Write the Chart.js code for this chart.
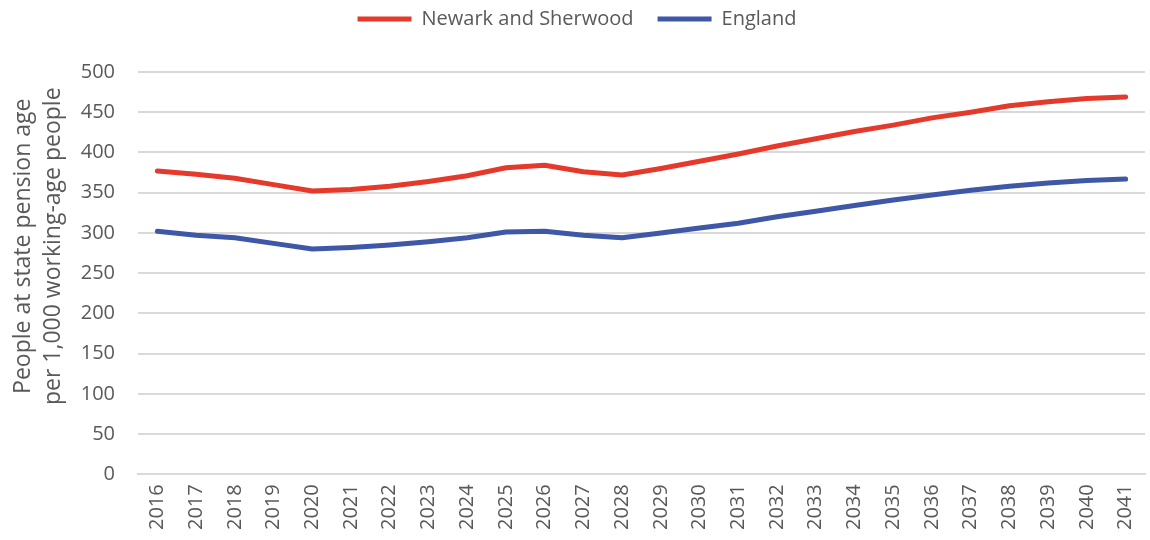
<!DOCTYPE html>
<html>
<head>
<meta charset="utf-8">
<script src="https://cdn.jsdelivr.net/npm/chart.js@4"></script>
<style>
  body { margin: 0; background: #fff; }
  #wrap { width: 1150px; height: 540px; }
</style>
</head>
<body>
<div id="wrap"><canvas id="chart" width="1150" height="540"></canvas></div>
<script>
// 연도
const years = ['2016','2017','2018','2019','2020','2021','2022','2023','2024','2025','2026','2027','2028',
    '2029','2030','2031','2032','2033','2034','2035','2036','2037','2038','2039','2040','2041'];
// Newark and Sherwood
const newark = [377,373,368,360,352,354,358,364,371,381,384,376,372,
    380,389,398,408,417,426,434,443,450,458,463,467,469];
// England
const england = [302,297,294,287,280,282,285,289,294,301,302,297,294,
    300,306,312,320,327,334,341,347,353,358,362,365,367];
// y축 눈금
const yTicks = [0,50,100,150,200,250,300,350,400,450,500];

const textColor = '#595959';
// 제목을 위로 조금 올리기 위한 앞 공백
const shift = '         ';

// 범례 아래 여백을 늘린다.
const legendGap = {
    id: 'legendGap',
    beforeInit(chart) {
        const fit = chart.legend.fit;
        chart.legend.fit = function () {
            fit.bind(chart.legend)();
            this.height += 33;
        };
    }
};

const chart = new Chart(document.getElementById('chart'), {
    type: 'line',
    data: {
        labels: years,
        datasets: [
            {
                label: 'Newark and Sherwood',
                data: newark,
                borderColor: '#E5392B',
                backgroundColor: '#E5392B',
                borderWidth: 5,
                pointRadius: 0,
                tension: 0,
                borderCapStyle: 'round',
                borderJoinStyle: 'round'
            },
            {
                label: 'England',
                data: england,
                borderColor: '#3F57A7',
                backgroundColor: '#3F57A7',
                borderWidth: 5,
                pointRadius: 0,
                tension: 0,
                borderCapStyle: 'round',
                borderJoinStyle: 'round'
            }
        ]
    },
    plugins: [legendGap],
    options: {
        responsive: false,
        animation: false,
        layout: { padding: { left: 9, right: 5, top: -15, bottom: 0 } },
        plugins: {
            legend: {
                position: 'top',
                labels: {
                    color: textColor,
                    font: { family: 'Open Sans', size: 20 },
                    boxWidth: 54,
                    boxHeight: 5,
                    padding: 24,
                    generateLabels(c) {
                        return c.data.datasets.map((d, i) => ({
                            text: d.label,
                            fillStyle: d.borderColor,
                            strokeStyle: d.borderColor,
                            lineWidth: 0,
                            fontColor: textColor,
                            datasetIndex: i
                        }));
                    }
                }
            },
            tooltip: { enabled: false }
        },
        scales: {
            x: {
                offset: true,
                afterFit(axis) {
                    axis.paddingRight = 0;
                },
                grid: { display: false, drawTicks: false },
                border: { color: '#d9d9d9', width: 2 },
                ticks: {
                    color: textColor,
                    font: { family: 'Open Sans', size: 20 },
                    maxRotation: 90,
                    minRotation: 90,
                    padding: 10,
                    autoSkip: false
                }
            },
            y: {
                min: 0,
                max: 500,
                afterBuildTicks(axis) {
                    axis.ticks = yTicks.map(v => ({ value: v }));
                },
                afterFit(axis) {
                    axis.width = 129;
                },
                grid: { color: '#d9d9d9', lineWidth: 2, drawTicks: false },
                border: { display: false },
                ticks: {
                    color: textColor,
                    font: { family: 'Open Sans', size: 20 },
                    padding: 23
                },
                title: {
                    display: true,
                    text: [shift + 'People at state pension age', shift + 'per 1,000 working-age people'],
                    color: textColor,
                    font: { family: 'Open Sans', size: 23, lineHeight: 1.3 },
                    padding: { top: 0, bottom: 4 }
                }
            }
        }
    }
});
</script>
</body>
</html>
